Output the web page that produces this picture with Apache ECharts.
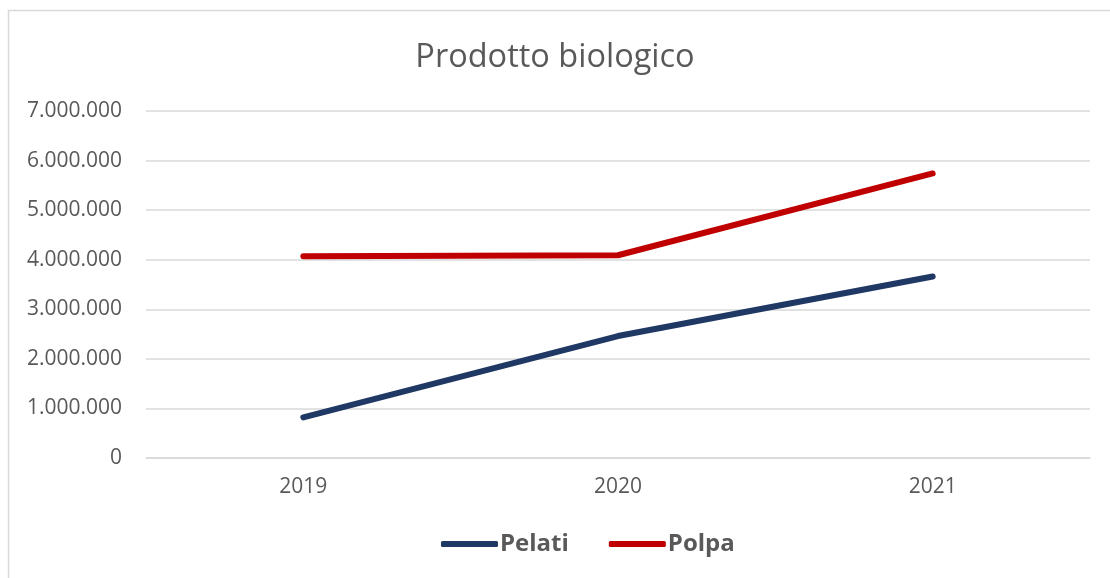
<!DOCTYPE html>
<html>
<head>
<meta charset="utf-8">
<script src="https://cdn.jsdelivr.net/npm/echarts@6/dist/echarts.min.js"></script>
<style>
  html, body { margin: 0; padding: 0; background: #fff; }
  #chart { width: 1110px; height: 578px; }
</style>
</head>
<body>
<div id="chart"></div>
<script>
// dati
var anni = ['2019', '2020', '2021'];
var pelati = [820000, 2460000, 3660000];
var polpa = [4070000, 4090000, 5740000];

var grigioTesto = '#595959';
var grigioLinee = '#d9d9d9';

function formatMigliaia(v) {
    return String(v).replace(/\B(?=(\d{3})+(?!\d))/g, '.');
}

var chart = echarts.init(document.getElementById('chart'));
var option = {
    backgroundColor: '#fff',
    animation: false,
    title: {
        text: 'Prodotto biologico',
        left: 'center',
        top: 36,
        textStyle: {
            fontFamily: 'Open Sans',
            fontSize: 32.5,
            fontWeight: 'normal',
            color: grigioTesto
        }
    },
    graphic: [{
        type: 'rect',
        shape: { x: 8.5, y: 10.5, width: 1200, height: 700 },
        style: { fill: 'none', stroke: grigioLinee, lineWidth: 1.5 },
        silent: true
    }],
    legend: {
        left: 436,
        top: 527,
        itemWidth: 57,
        itemHeight: 6,
        itemGap: 40,
        icon: 'roundRect',
        textStyle: {
            fontFamily: 'Open Sans',
            fontSize: 24,
            fontWeight: 'bold',
            color: grigioTesto,
            padding: [0, 0, 0, -3]
        },
        data: ['Pelati', 'Polpa']
    },
    grid: {
        left: 146,
        right: 20,
        top: 111,
        bottom: 120,
        containLabel: false
    },
    xAxis: {
        type: 'category',
        data: anni,
        boundaryGap: true,
        axisLine: { show: true, lineStyle: { color: grigioLinee, width: 1.5 } },
        axisTick: { show: false },
        axisLabel: {
            margin: 19,
            fontFamily: 'Open Sans',
            fontSize: 21,
            color: grigioTesto
        }
    },
    yAxis: {
        type: 'value',
        min: 0,
        max: 7000000,
        interval: 1000000,
        axisLine: { show: false },
        axisTick: { show: false },
        splitLine: { lineStyle: { color: grigioLinee, width: 1.5 } },
        axisLabel: {
            margin: 24,
            fontFamily: 'Open Sans',
            fontSize: 21,
            color: grigioTesto,
            formatter: formatMigliaia
        }
    },
    series: [
        {
            name: 'Pelati',
            type: 'line',
            data: pelati,
            symbol: 'none',
            color: '#203864',
            lineStyle: { width: 6, color: '#203864', cap: 'round', join: 'round' }
        },
        {
            name: 'Polpa',
            type: 'line',
            data: polpa,
            symbol: 'none',
            color: '#c00000',
            lineStyle: { width: 6, color: '#c00000', cap: 'round', join: 'round' }
        }
    ]
};
chart.setOption(option);
</script>
</body>
</html>
